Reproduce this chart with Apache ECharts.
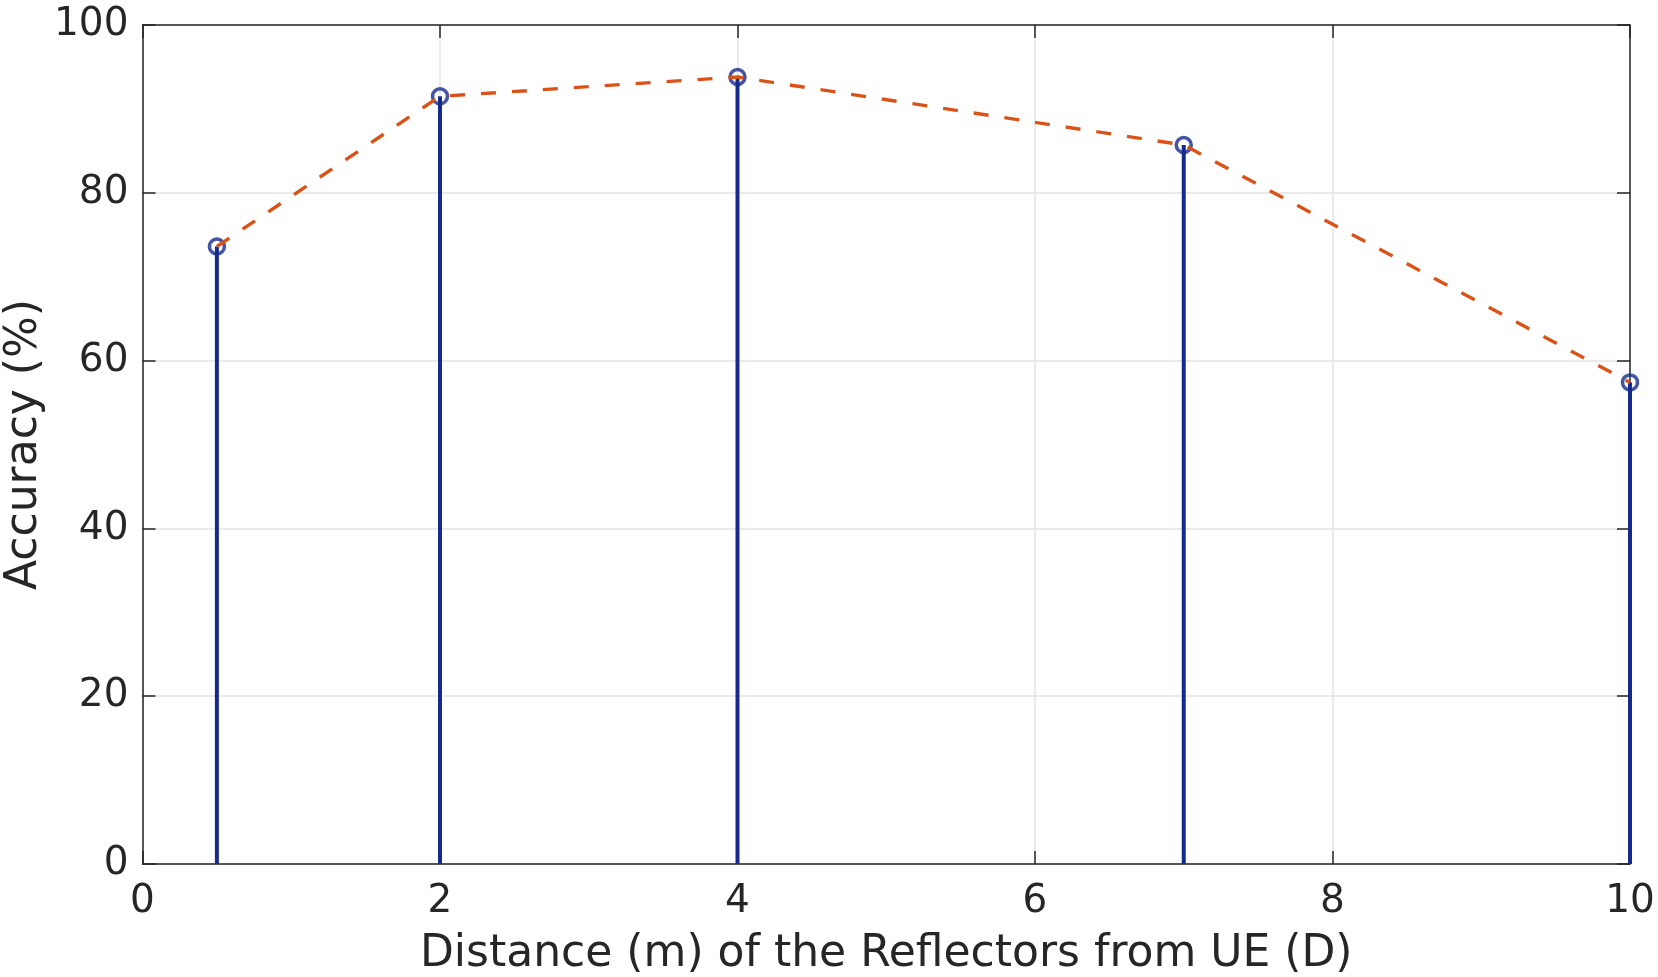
<!DOCTYPE html>
<html><head><meta charset="utf-8">
<script src="https://cdn.jsdelivr.net/npm/echarts@6/dist/echarts.min.js"></script>
<style>html,body{margin:0;padding:0;background:#fff}#c{width:1658px;height:977px}</style>
</head><body><div id="c"></div>
<script>
const distances = [0.5, 2, 4, 7, 10];
const accuracy = [73.6, 91.5, 93.8, 85.7, 57.4];
const xTitle = 'Distance (m) of the Reflectors from UE (D)';
const yTitle = 'Accuracy (%)';

const pts = distances.map((d, i) => [d, accuracy[i]]);
const font = 'DejaVu Sans';
const txt = '#262626';
const chart = echarts.init(document.getElementById('c'));
const axisCommon = () => ({
  axisLine: {show: true, onZero: false, lineStyle: {color: txt, width: 1.5}},
  axisTick: {show: true, inside: true, length: 13, lineStyle: {color: txt, width: 1.5}},
});
chart.setOption({
  animation: false,
  grid: {left: 142.5, top: 25, right: 28, bottom: 113, containLabel: false, outerBoundsMode: 'none'},
  xAxis: [
    Object.assign({type: 'value', min: 0, max: 10, interval: 2, position: 'bottom',
      name: xTitle, nameLocation: 'middle', nameGap: 69, nameMoveOverlap: false,
      nameTextStyle: {fontFamily: font, fontSize: 44, color: txt},
      axisLabel: {fontFamily: font, fontSize: 39, color: txt, margin: 18},
      splitLine: {show: true, lineStyle: {color: '#e3e3e3', width: 1.5}}}, axisCommon()),
    Object.assign({type: 'value', min: 0, max: 10, interval: 2, position: 'top',
      axisLabel: {show: false}, splitLine: {show: false}}, axisCommon())
  ],
  yAxis: [
    Object.assign({type: 'value', min: 0, max: 100, interval: 20, position: 'left',
      name: yTitle, nameLocation: 'middle', nameGap: 96, nameRotate: 90, nameMoveOverlap: false,
      nameTextStyle: {fontFamily: font, fontSize: 44, lineHeight: 44, color: txt},
      axisLabel: {fontFamily: font, fontSize: 39, color: txt, margin: 14},
      splitLine: {show: true, lineStyle: {color: '#e3e3e3', width: 1.5}}}, axisCommon()),
    Object.assign({type: 'value', min: 0, max: 100, interval: 20, position: 'right',
      axisLabel: {show: false}, splitLine: {show: false}}, axisCommon())
  ],
  series: [
    {
      type: 'custom', z: 2, data: pts,
      renderItem: function (params, api) {
        const top = api.coord([api.value(0), api.value(1)]);
        const base = api.coord([api.value(0), 0]);
        return {type: 'line', shape: {x1: base[0], y1: base[1], x2: top[0], y2: top[1]},
          style: {stroke: '#142a8c', lineWidth: 4}};
      }
    },
    {
      type: 'scatter', z: 3, data: pts, symbol: 'circle', symbolSize: 15,
      itemStyle: {color: 'rgba(0,0,0,0)', borderColor: '#142a8c', borderWidth: 3.5}
    },
    {
      type: 'line', z: 4, data: pts, symbol: 'none',
      lineStyle: {color: '#d95319', width: 3.4, type: [15, 16]}
    }
  ]
});
</script></body></html>
